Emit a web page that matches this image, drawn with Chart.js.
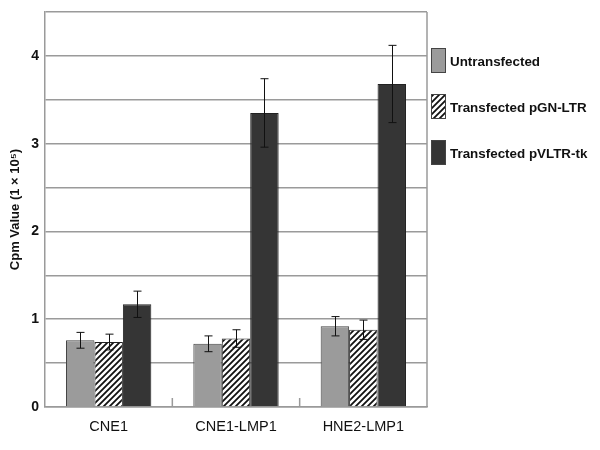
<!DOCTYPE html>
<html>
<head>
<meta charset="utf-8">
<script src="https://cdn.jsdelivr.net/npm/chart.js@4.4.1/dist/chart.umd.min.js"></script>
<style>
  html, body { margin: 0; padding: 0; background: #fff; }
  #wrap { width: 600px; height: 450px; }
</style>
</head>
<body>
<div id="wrap"><canvas id="c" width="600" height="450"></canvas></div>
<script>
const categories = ['CNE1', 'CNE1-LMP1', 'HNE2-LMP1'];
const untransfected = [0.76, 0.72, 0.92];
const untransfectedErr = [0.09, 0.09, 0.11];
const pgnLtr = [0.74, 0.78, 0.88];
const pgnLtrErr = [0.09, 0.10, 0.11];
const pvltrTk = [1.17, 3.35, 3.68];
const pvltrTkErr = [0.15, 0.39, 0.44];
const yTicks = [0, 1, 2, 3, 4];

function hatch() {
    let p = document.createElement('canvas');
    p.width = 6; p.height = 6;
    let g = p.getContext('2d');
    g.fillStyle = '#fff';
    g.fillRect(0, 0, 6, 6);
    g.strokeStyle = '#111';
    g.lineWidth = 1.8;
    g.beginPath();
    g.moveTo(0, 6); g.lineTo(6, 0);
    g.moveTo(-3, 3); g.lineTo(3, -3);
    g.moveTo(3, 9); g.lineTo(9, 3);
    g.stroke();
    return g.createPattern(p, 'repeat');
}

const errors = [untransfectedErr, pgnLtrErr, pvltrTkErr];

const errorBars = {
    id: 'errorBars',
    afterDatasetsDraw(chart) {
        const ctx = chart.ctx, y = chart.scales.y;
        ctx.save();
        ctx.strokeStyle = '#111';
        ctx.lineWidth = 1;
        chart.data.datasets.forEach((ds, di) => {
            chart.getDatasetMeta(di).data.forEach((bar, i) => {
                let v = ds.data[i], e = errors[di][i];
                let x = Math.round(bar.x) + 0.5;
                let top = y.getPixelForValue(v + e), bot = y.getPixelForValue(v - e);
                ctx.beginPath();
                ctx.moveTo(x, top); ctx.lineTo(x, bot);
                ctx.moveTo(x - 4, top); ctx.lineTo(x + 4, top);
                ctx.moveTo(x - 4, bot); ctx.lineTo(x + 4, bot);
                ctx.stroke();
            });
        });
        ctx.restore();
    }
};

// right border of the plot + small ticks between the groups
const frame = {
    id: 'frame',
    afterDatasetsDraw(chart) {
        const ctx = chart.ctx, a = chart.chartArea, x = chart.scales.x;
        ctx.save();
        ctx.strokeStyle = '#9a9a9a';
        ctx.lineWidth = 1.5;
        ctx.beginPath();
        ctx.moveTo(a.right, a.top); ctx.lineTo(a.right, a.bottom);
        for (let i = 1; i < categories.length; i++) {
            let px = (x.getPixelForTick(i - 1) + x.getPixelForTick(i)) / 2;
            ctx.moveTo(px, a.bottom); ctx.lineTo(px, a.bottom - 9);
        }
        ctx.stroke();
        ctx.restore();
    }
};

// legend drawn by hand so the plot keeps its width
const sideLegend = {
    id: 'sideLegend',
    afterDraw(chart) {
        const ctx = chart.ctx, a = chart.chartArea;
        ctx.save();
        ctx.font = 'bold 13.4px "Liberation Sans", Arial, sans-serif';
        ctx.textBaseline = 'middle';
        chart.data.datasets.forEach((ds, i) => {
            let bx = a.right + 4, by = 48 + i * 46;
            ctx.fillStyle = ds.backgroundColor;
            ctx.fillRect(bx, by, 14, 24);
            ctx.strokeStyle = '#444';
            ctx.lineWidth = 1;
            ctx.strokeRect(bx + 0.5, by + 0.5, 14, 24);
            ctx.fillStyle = '#111';
            ctx.fillText(ds.label, bx + 19, by + 14);
        });
        ctx.restore();
    }
};

Chart.defaults.font.family = '"Liberation Sans", Arial, sans-serif';
Chart.defaults.color = '#111';

new Chart(document.getElementById('c'), {
    type: 'bar',
    data: {
        labels: categories,
        datasets: [
            { label: 'Untransfected', data: untransfected, backgroundColor: '#9b9b9b', borderColor: '#444', borderWidth: 1 },
            { label: 'Transfected pGN-LTR', data: pgnLtr, backgroundColor: hatch(), borderColor: '#222', borderWidth: 1 },
            { label: 'Transfected pVLTR-tk', data: pvltrTk, backgroundColor: '#353535', borderColor: '#222', borderWidth: 1 }
        ]
    },
    options: {
        responsive: false,
        animation: false,
        devicePixelRatio: 1,
        layout: { padding: { top: 12, right: 173, left: 0, bottom: 0 } },
        datasets: { bar: { categoryPercentage: 0.67, barPercentage: 1 } },
        plugins: {
            legend: { display: false },
            tooltip: { enabled: false }
        },
        scales: {
            x: {
                grid: { display: false, drawTicks: false },
                border: { color: '#9a9a9a', width: 1.5 },
                ticks: { padding: 11, font: { size: 14.5 } },
                afterFit(s) { s.height = 43; }
            },
            y: {
                min: 0,
                max: 4.5,
                grid: { color: '#9a9a9a', lineWidth: 1.5, drawTicks: false },
                border: { color: '#9a9a9a', width: 1.5 },
                ticks: {
                    stepSize: 0.5,
                    padding: 6,
                    font: { size: 14, weight: 'bold' },
                    callback: v => yTicks.includes(v) ? String(v) : ''
                },
                title: {
                    display: true,
                    text: 'Cpm Value (1 \u00d7 10\u2075)',
                    font: { size: 13, weight: 'bold' },
                    padding: { top: 8, bottom: 0 }
                },
                afterFit(s) { s.width = 45; s.paddingTop = 0; s.paddingBottom = 0; }
            }
        }
    },
    plugins: [errorBars, frame, sideLegend]
});
</script>
</body>
</html>
